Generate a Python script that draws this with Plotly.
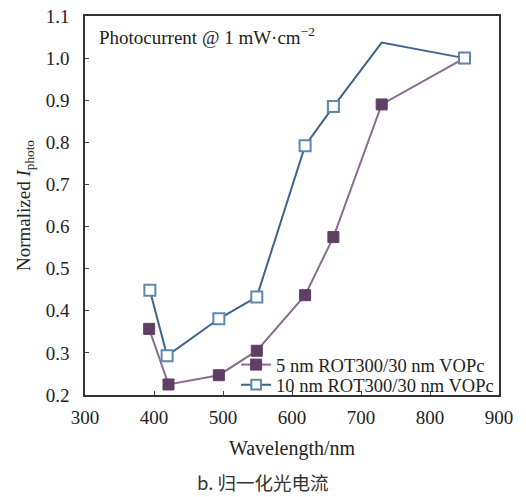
import plotly.graph_objects as go

wl_5nm = [393, 421, 494, 549, 619, 660, 730, 850]
val_5nm = [0.357, 0.225, 0.247, 0.305, 0.437, 0.575, 0.890, 1.000]

wl_10nm = [394, 419, 494, 549, 619, 660, 730, 850]
val_10nm = [0.449, 0.293, 0.381, 0.433, 0.792, 0.885, 1.037, 1.000]
sym_10nm = ["square", "square", "square", "square",
            "square", "square", "line-ew", "square"]
size_10nm = [11, 11, 11, 11, 11, 11, 0, 11]

x_ticks = [300, 400, 500, 600, 700, 800, 900]
y_ticks = [0.2, 0.3, 0.4, 0.5, 0.6, 0.7, 0.8, 0.9, 1.0, 1.1]

label_5nm = "5 nm ROT300/30 nm VOPc"
label_10nm = "10 nm ROT300/30 nm VOPc"

serif = "Liberation Serif"

fig = go.Figure()
fig.add_trace(go.Scatter(
    x=wl_5nm, y=val_5nm, name=label_5nm, mode="lines+markers",
    legend="legend",
    line=dict(color="#8b6b8f", width=2),
    marker=dict(symbol="square", size=11, color="#5f3f64", opacity=1,
                line=dict(color="#5f3f64", width=1)),
))
fig.add_trace(go.Scatter(
    x=wl_10nm, y=val_10nm, name=label_10nm, mode="lines+markers",
    legend="legend2",
    line=dict(color="#3f6487", width=2),
    marker=dict(symbol=sym_10nm, size=size_10nm, color="#ffffff", opacity=1,
                line=dict(color="#5d87ab", width=2)),
))

leg_common = dict(xanchor="left", x=0.365, yanchor="middle",
                  bgcolor="rgba(0,0,0,0)", font=dict(size=18.5, family=serif),
                  itemwidth=30, borderwidth=0)

fig.update_layout(
    width=526, height=497,
    margin=dict(l=85, r=27, t=16, b=102),
    paper_bgcolor="white", plot_bgcolor="white",
    font=dict(family=serif, size=19, color="#222222"),
    showlegend=True,
    hovermode=False,
    legend=dict(y=0.079, **leg_common),
    legend2=dict(y=0.026, **leg_common),
    xaxis=dict(range=[300, 900], tickvals=x_ticks, ticks="inside", ticklen=4,
               showline=True, linecolor="#333333", linewidth=1.5, mirror=True,
               showgrid=False, zeroline=False, automargin=False,
               tickfont=dict(size=19, family=serif), ticklabelstandoff=4,
               title=dict(text="Wavelength/nm", font=dict(size=20, family=serif), standoff=14)),
    yaxis=dict(range=[0.2, 1.1], tickvals=y_ticks, tickformat=".1f",
               ticks="inside", ticklen=4,
               showline=True, linecolor="#333333", linewidth=1.5, mirror=True,
               showgrid=False, zeroline=False, automargin="left",
               tickfont=dict(size=19, family=serif), ticklabelstandoff=10,
               title=dict(text="Normalized <i>I</i><sub>photo</sub>",
                          font=dict(size=19, family=serif), standoff=10)),
    annotations=[
        dict(text="Photocurrent @ 1 mW·cm<sup>−2</sup>", x=0.03, y=0.985,
             xref="paper", yref="paper", xanchor="left", yanchor="top",
             showarrow=False, font=dict(size=19, family=serif)),
        dict(text="b. 归一化光电流", x=0.43, y=0.0, xref="paper", yref="paper",
             yshift=-87, xanchor="center", yanchor="middle", showarrow=False,
             font=dict(size=18.5, family="Noto Sans CJK SC", color="#333333")),
    ],
)

fig.write_html("out.html", config={"displayModeBar": False},
               post_script="document.body.style.margin='0px';")
